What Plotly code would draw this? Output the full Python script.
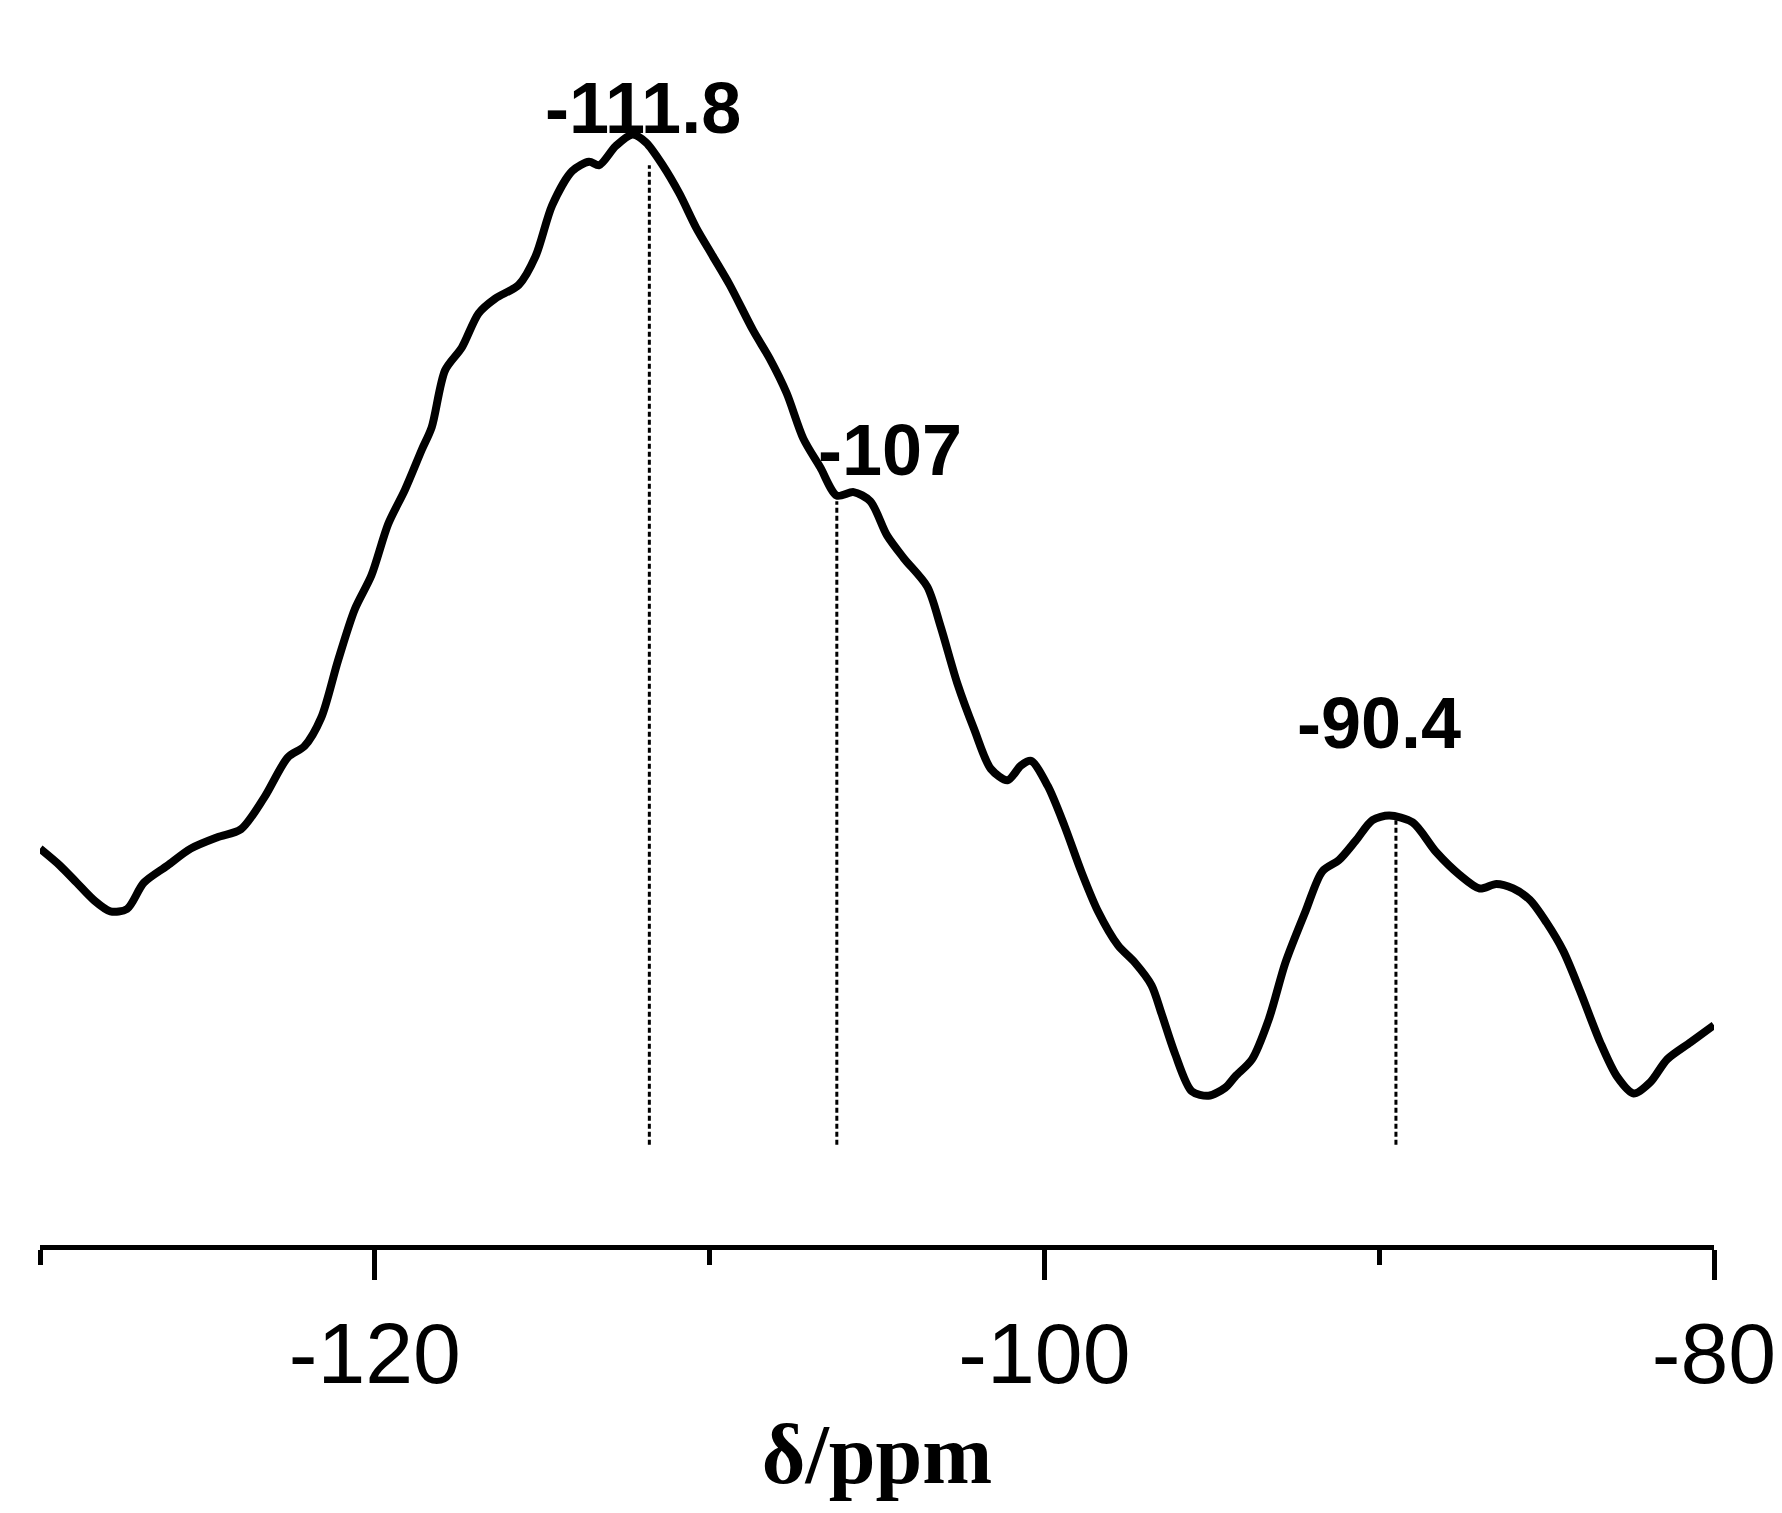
import plotly.graph_objects as go

# chemical shift (ppm) and intensity (arbitrary units)
shift = [-130.0, -129.4, -128.9, -128.4, -127.9, -127.4, -126.9, -126.2, -125.5, -124.7,
         -124.0, -123.3, -122.6, -122.1, -121.6, -121.1, -120.6, -120.1, -119.6, -119.1,
         -118.6, -118.3, -117.9, -117.4, -116.9, -116.4, -115.7, -115.2, -114.7, -114.1,
         -113.6, -113.3, -112.8, -112.3, -111.9, -111.4, -110.9, -110.4, -109.9, -109.4,
         -108.7, -108.2, -107.7, -107.2, -106.7, -106.2, -105.7, -105.2, -104.7, -104.2,
         -103.5, -103.1, -102.6, -102.1, -101.6, -101.1, -100.7, -100.4, -99.9, -99.4,
         -98.9, -98.4, -97.8, -97.3, -96.8, -96.5, -96.1, -95.6, -95.1, -94.6, -94.3, -93.8,
         -93.3, -92.8, -92.2, -91.7, -91.2, -90.7, -90.2, -89.7, -89.0, -88.3, -87.6, -87.0,
         -86.5, -86.0, -85.5, -85.0, -84.5, -84.0, -83.4, -82.9, -82.4, -81.9, -81.4, -80.7, -80.0]
intensity = [348, 333, 318, 303, 293, 295, 318, 333, 348, 358,
             365, 393, 428, 438, 463, 513, 558, 588, 633, 663,
             698, 718, 768, 788, 818, 831, 843, 868, 913, 943,
             951, 948, 965, 975, 968, 948, 923, 893, 868, 843,
             803, 778, 748, 708, 683, 658, 661, 653, 623, 603,
             578, 543, 493, 453, 418, 408, 421, 425, 403, 368,
             328, 293, 263, 248, 228, 203, 168, 135, 131, 138, 148, 163,
             198, 248, 293, 328, 338, 355, 373, 377, 371, 345, 325, 313,
             317, 313, 303, 283, 258, 223, 178, 148, 133, 143, 163, 178, 193]

peak_pos = [-111.8, -106.2, -89.5]
peak_top = [948, 653, 373]
peak_text = ["-111.8", "-107", "-90.4"]
label_x = [-112.0, -104.6, -90.0]
label_y = [1035, 735, 458]
line_bottom = 88

tick_vals = [-120, -100, -80]
tick_text = ["-120", "-100", "-80"]

fig = go.Figure()
for px, pt in zip(peak_pos, peak_top):
    fig.add_trace(go.Scatter(x=[px, px], y=[line_bottom, pt], mode="lines",
                             line=dict(color="black", width=3, dash="5px,3px"),
                             showlegend=False, hoverinfo="skip"))
fig.add_trace(go.Scatter(x=shift, y=intensity, mode="lines",
                         line=dict(color="black", width=8, shape="spline", smoothing=0.8),
                         showlegend=False))

for lx, ly, t in zip(label_x, label_y, peak_text):
    fig.add_annotation(x=lx, y=ly / 1000, yref="paper", text="<b>" + t + "</b>",
                       showarrow=False,
                       font=dict(family="Liberation Sans", size=72, color="black"))

fig.update_layout(
    width=1782, height=1513, paper_bgcolor="white", plot_bgcolor="white",
    margin=dict(l=32, r=76, t=98, b=276),
    font=dict(family="Liberation Sans", color="black"),
    xaxis=dict(range=[-130, -80], tickvals=tick_vals, ticktext=tick_text,
               ticks="outside", ticklen=30,
               tickwidth=5, tickcolor="black", showline=True, linewidth=5, linecolor="black",
               showgrid=False, zeroline=False, ticklabelstandoff=0,
               tickfont=dict(family="Liberation Sans", size=86, color="black"),
               minor=dict(tick0=-130, dtick=10, ticks="outside", ticklen=15, tickwidth=5,
                          tickcolor="black", showgrid=False),
               title=dict(text="<b>δ/ppm</b>", standoff=25,
                          font=dict(family="Liberation Serif", size=84, color="black"))),
    yaxis=dict(range=[0, 1000], visible=False),
)
fig.update_xaxes(tickprefix="<b>", ticksuffix="</b>")
fig.write_html("out.html")
